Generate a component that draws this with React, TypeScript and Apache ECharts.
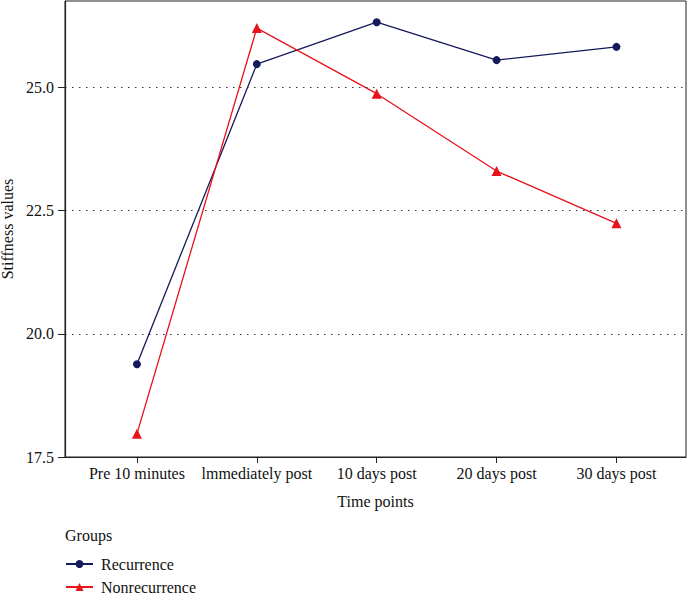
import React, { useEffect, useRef } from "react";
import * as echarts from "echarts";

const categories = ["Pre 10 minutes", "lmmediately post", "10 days post", "20 days post", "30 days post"];
const recurrence = [19.38, 25.47, 26.32, 25.55, 25.82];
const nonrecurrence = [17.97, 26.2, 24.87, 23.3, 22.24];
const yTicks = [17.5, 20.0, 22.5, 25.0];

const FONT = "Liberation Serif";
const FS = 16;

export default function App() {
  const ref = useRef<HTMLDivElement>(null);
  useEffect(() => {
    if (!ref.current) return;
    const chart = echarts.init(ref.current, null, { renderer: "svg" });
    const idx = categories.map((_, i) => i);
    const legendCommon = {
      orient: "vertical",
      left: 65,
      padding: 0,
      itemGap: 0,
      itemWidth: 27,
      itemHeight: 10,
      textStyle: { fontFamily: FONT, fontSize: FS, color: "#111", padding: [0, 0, 0, 3] },
    };
    chart.setOption({
      animation: false,
      textStyle: { fontFamily: FONT },
      grid: {
        left: 65,
        top: 1,
        right: 1,
        bottom: 137,
        show: true,
        borderColor: "#222",
        borderWidth: 1,
        containLabel: false,
        outerBoundsMode: "none",
      },
      xAxis: {
        type: "value",
        min: -0.6,
        max: 4.58,
        name: "Time points",
        nameLocation: "middle",
        nameGap: 36,
        nameTextStyle: { fontFamily: FONT, fontSize: FS, color: "#111" },
        axisLine: { show: true, onZero: false, lineStyle: { color: "#222", width: 1.2 } },
        axisTick: { show: true, length: 6, customValues: idx, lineStyle: { color: "#222" } },
        axisLabel: {
          customValues: idx,
          fontFamily: FONT,
          fontSize: FS,
          color: "#111",
          margin: 8,
          formatter: (v: number) => categories[Math.round(v)] ?? "",
        },
        splitLine: { show: false },
      },
      yAxis: {
        type: "value",
        min: 17.5,
        max: 26.75,
        name: "Stiffness values",
        nameLocation: "middle",
        nameGap: 47,
        nameTextStyle: { fontFamily: FONT, fontSize: FS, color: "#111" },
        axisLine: { show: true, onZero: false, lineStyle: { color: "#222", width: 1.2 } },
        axisTick: { show: true, length: 7, customValues: yTicks, lineStyle: { color: "#222" } },
        axisLabel: {
          customValues: yTicks,
          fontFamily: FONT,
          fontSize: FS,
          color: "#111",
          margin: 11,
          formatter: (v: number) => v.toFixed(1),
        },
        splitLine: { show: false },
      },
      series: [
        {
          type: "line",
          name: "Recurrence",
          data: recurrence.map((v, i) => [i, v]),
          color: "#141a5b",
          symbol: "circle",
          symbolSize: 8,
          lineStyle: { width: 1.3, color: "#141a5b" },
          itemStyle: { color: "#141a5b" },
          markLine: {
            silent: true,
            symbol: "none",
            label: { show: false },
            lineStyle: { type: [1.5, 5.5], color: "#333", width: 1.2 },
            data: yTicks.slice(1).map((t) => ({ yAxis: t })),
          },
        },
        {
          type: "line",
          name: "Nonrecurrence",
          data: nonrecurrence.map((v, i) => [i, v]),
          color: "#e8121a",
          symbol: "triangle",
          symbolSize: 10,
          lineStyle: { width: 1.3, color: "#e8121a" },
          itemStyle: { color: "#e8121a" },
        },
      ],
      legend: [
        { ...legendCommon, top: 556, data: ["Recurrence"] },
        { ...legendCommon, top: 579, data: ["Nonrecurrence"] },
      ],
      graphic: [
        {
          type: "text",
          left: 65,
          top: 527,
          style: { text: "Groups", font: `${FS}px "${FONT}"`, fill: "#111" },
        },
      ],
    });
    return () => chart.dispose();
  }, []);
  return <div ref={ref} style={{ width: 687, height: 594, position: "absolute", left: 0, top: 0 }} />;
}
